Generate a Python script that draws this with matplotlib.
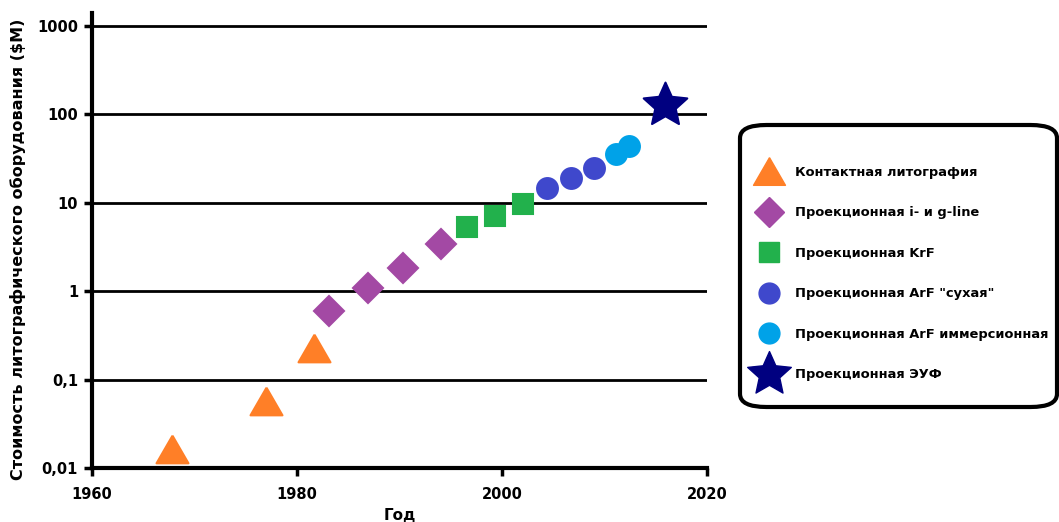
import numpy as np
import matplotlib.pyplot as plt
from matplotlib.lines import Line2D
from matplotlib.patches import FancyBboxPatch
from matplotlib.path import Path

plt.rcParams['font.family'] = ['DejaVu Sans']
plt.rcParams['font.weight'] = 'bold'

# Data
contact_years = [1967.8, 1977.0, 1981.7]
contact_cost = [0.0165, 0.057, 0.225]

iline_years = [1983.1, 1986.9, 1990.3, 1994.0]
iline_cost = [0.6, 1.09, 1.85, 3.45]

krf_years = [1996.6, 1999.3, 2002.0]
krf_cost = [5.3, 7.0, 9.7]

arf_dry_years = [2004.4, 2006.7, 2009.0]
arf_dry_cost = [14.7, 19.0, 24.8]

arf_imm_years = [2011.1, 2012.4]
arf_imm_cost = [35.5, 43.5]

euv_years = [2015.9]
euv_cost = [128]

labels = ["Контактная литография", "Проекционная i- и g-line", "Проекционная KrF",
          'Проекционная ArF "сухая"', "Проекционная ArF иммерсионная", "Проекционная ЭУФ"]
colors = ["#FF7F27", "#A349A4", "#22B14C", "#3F48CC", "#00A2E8", "#000080"]

# equilateral triangle and a fatter star than the default ones
tri = Path([(0, 0.433), (-0.5, -0.433), (0.5, -0.433), (0, 0.433)])
star = Path.unit_regular_star(5, innerCircle=0.47)
markers = [tri, "D", "s", "o", "o", star]
sizes = [23, 15, 14.5, 15, 15, 33]

yticks = [0.01, 0.1, 1, 10, 100, 1000]
ytick_labels = ["0,01", "0,1", "1", "10", "100", "1000"]
xticks = [1960, 1980, 2000, 2020]

fig = plt.figure(figsize=(10.59, 5.22), dpi=100)
ax = fig.add_axes([92 / 1059, 1 - 468 / 522, 615 / 1059, (468 - 13) / 522])

series = [(contact_years, contact_cost), (iline_years, iline_cost), (krf_years, krf_cost),
          (arf_dry_years, arf_dry_cost), (arf_imm_years, arf_imm_cost), (euv_years, euv_cost)]
for (xs, ys), c, m, s in zip(series, colors, markers, sizes):
    ax.plot(xs, ys, linestyle="none", marker=m, markersize=s, color=c,
            markeredgecolor=c, markeredgewidth=1.5, zorder=3, clip_on=False)

ax.set_yscale("log")
ax.set_xlim(1960, 2020)
ax.set_ylim(0.01, 10 ** (3 + 13 / 88.4))
ax.set_yticks(yticks)
ax.set_yticklabels(ytick_labels)
ax.minorticks_off()
ax.set_xticks(xticks)
ax.yaxis.grid(True, color="black", linewidth=2)
ax.set_axisbelow(True)

for side in ["top", "right"]:
    ax.spines[side].set_visible(False)
for side in ["left", "bottom"]:
    ax.spines[side].set_linewidth(3)
ax.tick_params(axis="both", width=2.5, length=6, labelsize=10.5)
ax.tick_params(axis="y", pad=4)
ax.tick_params(axis="x", pad=8)

ax.set_xlabel("Год", fontsize=11, fontweight="bold", labelpad=4)
ax.set_ylabel("Стоимость литографического оборудования ($M)", fontsize=11.5,
              fontweight="bold")
ax.yaxis.set_label_coords(-0.107, 0.48)

# Legend with a rounded frame
frame = FancyBboxPatch((740 / 1059, 1 - 407 / 522), (1057 - 740) / 1059, (407 - 125) / 522,
                       boxstyle="round,pad=0,rounding_size=0.025", transform=fig.transFigure,
                       facecolor="white", edgecolor="black", linewidth=3, zorder=0)
fig.patches.append(frame)

handles = [Line2D([], [], linestyle="none", marker=m, markersize=s, color=c)
           for m, s, c in zip(markers, sizes, colors)]
fig.legend(handles, labels, loc="upper left", bbox_to_anchor=(759 / 1059, 1 - 166 / 522),
           frameon=False, borderpad=0, borderaxespad=0, handlelength=1.6,
           handletextpad=1.15, labelspacing=2.1, prop={"weight": "bold", "size": 9.4})

fig.savefig("out.png", dpi=100)
